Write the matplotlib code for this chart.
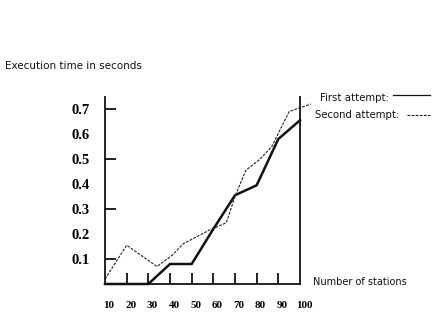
import matplotlib
matplotlib.use("Agg")
import matplotlib.pyplot as plt
import matplotlib.transforms as mtransforms

# Data
first_x = [10, 20, 30, 40, 50, 60, 70, 80, 90, 100]
first_y = [0.0, 0.0, 0.0, 0.08, 0.08, 0.22, 0.355, 0.395, 0.58, 0.655]

second_x = [10, 20, 34, 41, 46, 58, 66, 70, 75, 81, 87, 95, 100, 105]
second_y = [0.02, 0.155, 0.07, 0.115, 0.16, 0.215, 0.245, 0.35, 0.455, 0.495, 0.55, 0.69, 0.705, 0.72]

x_ticklabels = ["10", "20", "30", "40", "50", "60", "70", "80", "90", "100"]
x_tickvals = [10, 20, 30, 40, 50, 60, 70, 80, 90, 100]
x_marks = [20, 30, 40, 50, 60, 70, 80, 90]
y_tickvals = [0.1, 0.2, 0.3, 0.4, 0.5, 0.6, 0.7]
y_ticklabels = ["0.1", "0.2", "0.3", "0.4", "0.5", "0.6", "0.7"]
y_marks = [0.1, 0.3, 0.5, 0.7]

fig = plt.figure(figsize=(4.37, 3.12), dpi=100)
ax = fig.add_axes([105/437, 1-284/312, 195/437, 187/312])
ax.set_xlim(10, 100)
ax.set_ylim(0, 0.748)

ax.plot(first_x, first_y, color="#111111", lw=1.8, solid_joinstyle="miter", clip_on=False)
ax.plot(second_x, second_y, color="#222222", lw=0.8, dashes=(2.5, 1.2), clip_on=False)

ax.spines["top"].set_visible(False)
for s in ["left", "bottom", "right"]:
    ax.spines[s].set_linewidth(1.3)
    ax.spines[s].set_color("#111111")

# tick labels
ax.set_xticks(x_tickvals)
ax.set_xticklabels(x_ticklabels, family="Liberation Serif", fontsize=8, weight="bold")
ax.set_yticks(y_tickvals)
ax.set_yticklabels(y_ticklabels, family="Liberation Serif", fontsize=10.5, weight="bold")
ax.tick_params(axis="both", which="major", length=0)
ax.tick_params(axis="x", which="major", pad=12)
ax.tick_params(axis="y", which="major", pad=11)
off = mtransforms.ScaledTranslation(4/100, 0, fig.dpi_scale_trans)
for lbl in ax.get_xticklabels():
    lbl.set_transform(lbl.get_transform() + off)

# tick marks (inward)
secx = ax.secondary_xaxis("bottom")
secx.set_xticks(x_marks)
secx.set_xticklabels([])
secx.tick_params(direction="in", length=8, width=1.3, color="#111111")
secx.spines["bottom"].set_visible(False)

secy = ax.secondary_yaxis("left")
secy.set_yticks(y_marks)
secy.set_yticklabels([])
secy.tick_params(direction="in", length=8, width=1.3, color="#111111")
secy.spines["left"].set_visible(False)

fig.text(5/437, 1-66/312, "Execution time in seconds", fontsize=7.5, va="center", ha="left",
         family="DejaVu Sans", color="#111111")
fig.text(313/437, 1-282/312, "Number of stations", fontsize=7, va="center", ha="left",
         family="DejaVu Sans", color="#111111")

# legend
fig.text(320/437, 1-98/312, "First attempt:", fontsize=7.3, va="center", ha="left",
         family="DejaVu Sans", color="#111111")
fig.text(315/437, 1-115/312, "Second attempt:", fontsize=7.3, va="center", ha="left",
         family="DejaVu Sans", color="#111111")
fig.add_artist(plt.Line2D([393/437, 430/437], [1-95/312, 1-95/312], color="#111111", lw=0.9))
fig.add_artist(plt.Line2D([407/437, 430/437], [1-115/312, 1-115/312], color="#222222", lw=0.8,
                          dashes=(2.5, 1.2)))

fig.savefig("out.png", dpi=100, facecolor="white")
